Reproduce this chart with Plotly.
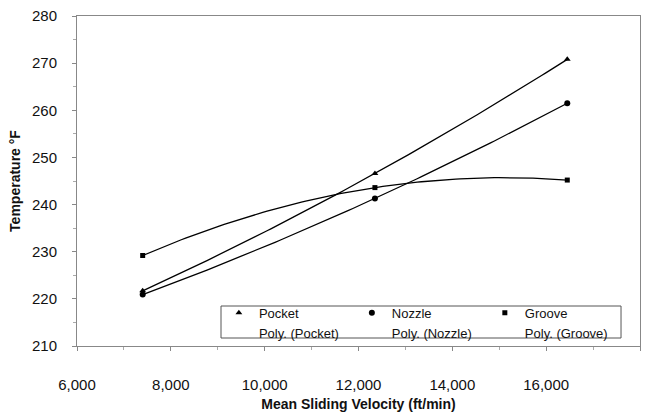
import numpy as np
import plotly.graph_objects as go

velocity = [7400, 12350, 16450]
pocket = [221.7, 246.6, 270.8]
nozzle = [220.9, 241.3, 261.5]
groove = [229.2, 243.6, 245.2]

series = [
    ("Pocket", pocket, "triangle-up", 6, "legend"),
    ("Nozzle", nozzle, "circle", 6, "legend2"),
    ("Groove", groove, "square", 5, "legend3"),
]

font = "Liberation Sans, Arial, sans-serif"
fig = go.Figure()

xs = np.linspace(min(velocity), max(velocity), 100)
for name, vals, sym, sz, lg in series:
    coef = np.polyfit(velocity, vals, 2)
    fig.add_trace(go.Scatter(x=xs, y=np.polyval(coef, xs), mode="lines",
                             line=dict(color="black", width=1.3),
                             showlegend=False, hoverinfo="skip"))

for name, vals, sym, sz, lg in series:
    fig.add_trace(go.Scatter(x=velocity, y=vals, mode="markers", name=name, legend=lg,
                             marker=dict(symbol=sym, size=sz, color="black")))
    fig.add_trace(go.Scatter(x=[None], y=[None], mode="markers", name=f"Poly. ({name})",
                             legend=lg, marker=dict(color="rgba(0,0,0,0)", size=1)))

leg_common = dict(orientation="v", xanchor="left", yanchor="top", y=0.146,
                  bgcolor="rgba(0,0,0,0)", borderwidth=0,
                  font=dict(size=13, color="#111"), tracegroupgap=0, traceorder="normal")
col_x = [0.252, 0.4882, 0.7244]

fig.update_layout(
    width=658, height=415,
    margin=dict(l=77, r=18, t=16, b=69),
    plot_bgcolor="white", paper_bgcolor="white",
    font=dict(family=font, size=14, color="#111"),
    legend=dict(x=col_x[0], **leg_common),
    legend2=dict(x=col_x[1], **leg_common),
    legend3=dict(x=col_x[2], **leg_common),
    shapes=[dict(type="rect", xref="paper", yref="paper",
                 x0=0.2558, x1=0.9663, y0=0.0242, y1=0.1212,
                 line=dict(color="#555", width=1), fillcolor="white", layer="below")],
)
fig.update_xaxes(range=[6000, 18000], dtick=2000, tickformat=",d", automargin=False,
                 tickfont=dict(size=15),
                 showgrid=False, showline=True, linecolor="#888", linewidth=1, mirror=True,
                 ticks="outside", ticklen=4, tickcolor="#888",
                 minor=dict(dtick=1000, ticks="outside", ticklen=3, tickcolor="#aaa"),
                 ticklabelstandoff=21,
                 title=dict(text="<b>Mean Sliding Velocity (ft/min)</b>", standoff=7,
                            font=dict(size=14)))
fig.update_yaxes(range=[210, 280], dtick=10, automargin=False,
                 tickfont=dict(size=15),
                 showgrid=False, showline=True, linecolor="#888", linewidth=1, mirror=True,
                 ticks="outside", ticklen=4, tickcolor="#888",
                 minor=dict(dtick=5, ticks="outside", ticklen=3, tickcolor="#aaa"),
                 ticklabelstandoff=12,
                 title=dict(text="<b>Temperature °F</b>", standoff=8, font=dict(size=14)))

fig.write_html("out.html")
